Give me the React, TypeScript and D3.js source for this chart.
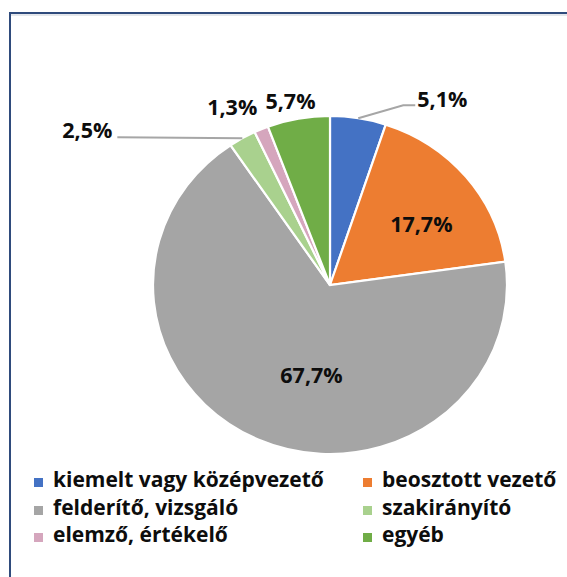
import React from "react";
import * as d3 from "d3";

const categories = [
  "kiemelt vagy középvezető",
  "beosztott vezető",
  "felderítő, vizsgáló",
  "szakirányító",
  "elemző, értékelő",
  "egyéb",
];
const values = [5.1, 17.7, 67.7, 2.5, 1.3, 5.7];
const colors = ["#4472C4", "#ED7D31", "#A5A5A5", "#A9D18E", "#D5A6BD", "#70AD47"];
const labelTexts = values.map((v) => `${v.toFixed(1).replace(".", ",")}%`);

// label layout (relative to the slice's outer-edge point or centroid)
type LabelLayout = {
  mode: "inside" | "outside";
  frac?: number;
  dx: number;
  dy: number;
  anchor: "start" | "middle" | "end";
  leader?: [number, number][];
};
const labelLayout: LabelLayout[] = [
  { mode: "outside", dx: 59, dy: -11, anchor: "start", leader: [[45, -13], [57, -13]] },
  { mode: "inside", frac: 0.62, dx: 7, dy: 14, anchor: "middle" },
  { mode: "inside", frac: 0.55, dx: 21, dy: 13, anchor: "middle" },
  { mode: "outside", dx: -130, dy: 0, anchor: "end", leader: [[-125, -1]] },
  { mode: "outside", dx: -29, dy: -14, anchor: "middle" },
  { mode: "outside", dx: -8, dy: -10, anchor: "middle" },
];

const W = 567;
const H = 577;
const cx = 330;
const cy = 285;
const rx = 177;
const ry = 169;

export default function App() {
  const pie = d3.pie<number>().sort(null).value((d) => d);
  const arcs = pie(values);
  const arc = d3.arc<d3.PieArcDatum<number>>().innerRadius(0).outerRadius(ry);

  const font = "'Open Sans', 'DejaVu Sans', sans-serif";

  const polar = (angle: number, frac: number): [number, number] => [
    cx + rx * frac * Math.sin(angle),
    cy - ry * frac * Math.cos(angle),
  ];

  const legendCols = [34, 363];
  const legendRows = [487, 515, 542];

  return (
    <svg
      width={W}
      height={H}
      style={{ position: "absolute", left: 0, top: 0, background: "#fff" }}
    >
      <rect x={0} y={0} width={W} height={H} fill="#fff" />
      <rect x={10} y={13} width={W + 20} height={H + 20} fill="#fff" stroke="#2F4B7C" strokeWidth={2} />
      <line x1={11} y1={15} x2={W} y2={15} stroke="#C9CFD8" strokeWidth={1} />
      <g transform={`translate(${cx},${cy}) scale(${rx / ry},1)`}>
        {arcs.map((a, i) => (
          <path
            key={i}
            d={arc(a) || ""}
            fill={colors[i]}
            stroke="#fff"
            strokeWidth={2.2}
            vectorEffect="non-scaling-stroke"
          />
        ))}
      </g>
      {arcs.map((a, i) => {
        const L = labelLayout[i];
        const mid = (a.startAngle + a.endAngle) / 2;
        const base = L.mode === "inside" ? polar(mid, L.frac || 0.6) : polar(mid, 1);
        const tx = base[0] + L.dx;
        const ty = base[1] + L.dy;
        const pts: [number, number][] = L.leader
          ? [base, ...L.leader.map(([x, y]) => [base[0] + x, base[1] + y] as [number, number])]
          : [];
        return (
          <g key={i}>
            {pts.length > 0 && (
              <path
                d={d3.line()(pts) || ""}
                fill="none"
                stroke="#A6A6A6"
                strokeWidth={2}
              />
            )}
            <text
              x={tx}
              y={ty}
              textAnchor={L.anchor}
              fontFamily={font}
              fontWeight={700}
              fontSize={21.5}
              fill="#0d0d0d"
            >
              {labelTexts[i]}
            </text>
          </g>
        );
      })}
      {categories.map((c, i) => {
        const col = i % 2;
        const row = Math.floor(i / 2);
        const x = legendCols[col];
        const y = legendRows[row];
        return (
          <g key={c}>
            <rect x={x} y={y - 9} width={9} height={9} fill={colors[i]} />
            <text
              x={x + 19}
              y={y}
              fontFamily={font}
              fontWeight={700}
              fontSize={21}
              fill="#0d0d0d"
            >
              {c}
            </text>
          </g>
        );
      })}
    </svg>
  );
}
